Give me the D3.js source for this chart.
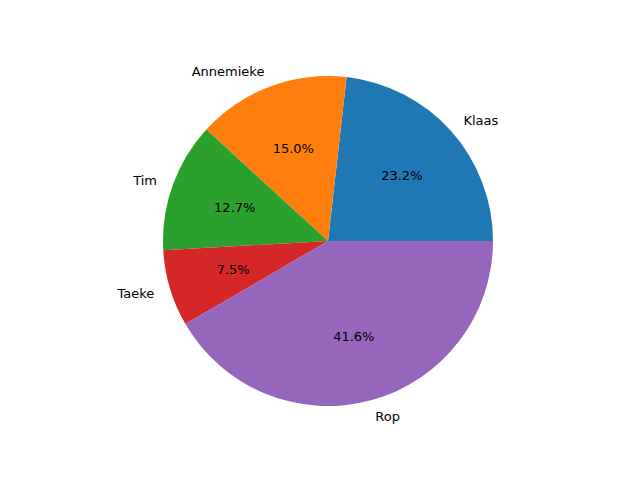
<!DOCTYPE html>
<html>
<head>
<meta charset="utf-8">
<script src="https://cdn.jsdelivr.net/npm/d3@7"></script>
<style>body{margin:0;background:#fff}</style>
</head>
<body>
<svg id="chart" width="640" height="480"></svg>
<script>
// slice data, counterclockwise from 3 o'clock like the original
var names = ["Klaas", "Annemieke", "Tim", "Taeke", "Rop"];
var values = [23.2, 15.0, 12.7, 7.5, 41.6];
var colors = ["#1f77b4", "#ff7f0e", "#2ca02c", "#d62728", "#9467bd"];

var cx = 328, cy = 241, r = 165;
var svg = d3.select("#chart");
var g = svg.append("g").attr("transform", "translate(" + cx + "," + cy + ")");

var pie = d3.pie().sort(null).value(d => d)(values);
var arc = d3.arc().innerRadius(0).outerRadius(r);

pie.forEach((p, i) => {
  // convert CCW-from-east angles into d3's clockwise-from-north angles
  var a0 = Math.PI / 2 - p.endAngle, a1 = Math.PI / 2 - p.startAngle;
  g.append("path")
    .attr("d", arc({startAngle: a0, endAngle: a1}))
    .attr("fill", colors[i]);

  var mid = (p.startAngle + p.endAngle) / 2;
  var lx = 1.1 * r * Math.cos(mid), ly = -1.1 * r * Math.sin(mid);
  g.append("text")
    .attr("x", lx).attr("y", ly)
    .attr("dy", "0.35em")
    .attr("text-anchor", lx > 0 ? "start" : "end")
    .attr("font-family", "DejaVu Sans")
    .attr("font-size", 13)
    .text(names[i]);

  g.append("text")
    .attr("x", 0.6 * r * Math.cos(mid)).attr("y", -0.6 * r * Math.sin(mid))
    .attr("dy", "0.35em")
    .attr("text-anchor", "middle")
    .attr("font-family", "DejaVu Sans")
    .attr("font-size", 13)
    .text(values[i].toFixed(1) + "%");
});
</script>
</body>
</html>
